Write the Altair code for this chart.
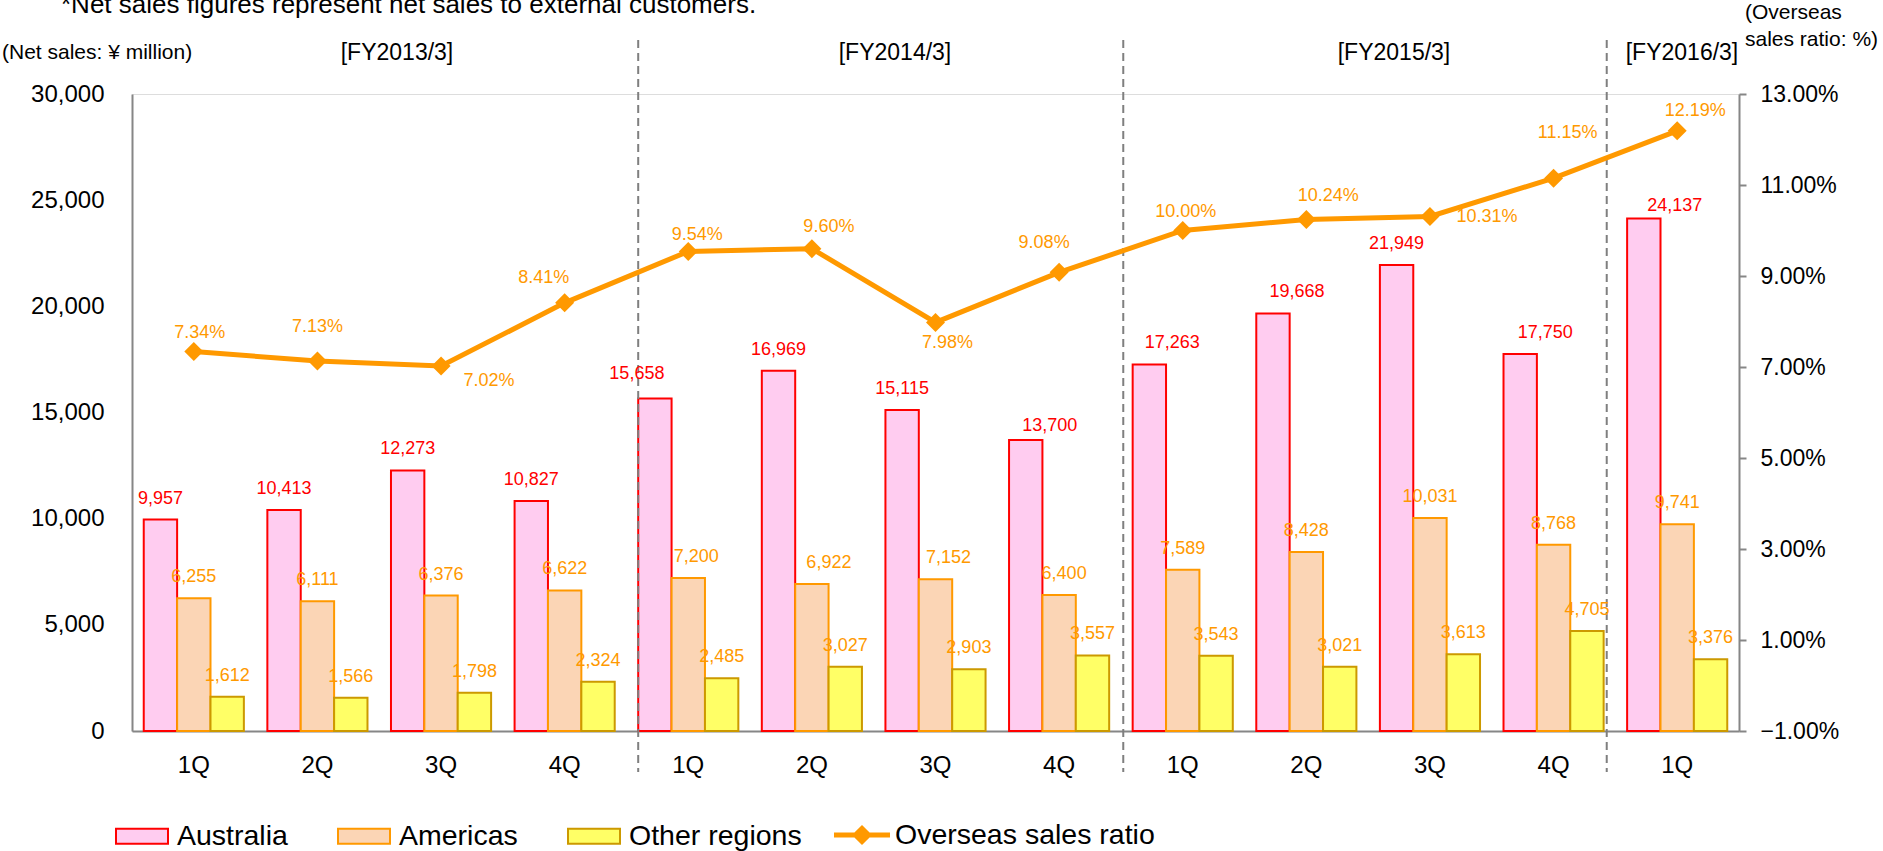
import altair as alt
import pandas as pd

# ---- data -----------------------------------------------------------------
fiscal_years = ["FY2013/3"] * 4 + ["FY2014/3"] * 4 + ["FY2015/3"] * 4 + ["FY2016/3"]
quarters = ["1Q", "2Q", "3Q", "4Q", "1Q", "2Q", "3Q", "4Q", "1Q", "2Q", "3Q", "4Q", "1Q"]

australia = [9957, 10413, 12273, 10827, 15658, 16969, 15115, 13700, 17263, 19668, 21949, 17750, 24137]
americas = [6255, 6111, 6376, 6622, 7200, 6922, 7152, 6400, 7589, 8428, 10031, 8768, 9741]
other_regions = [1612, 1566, 1798, 2324, 2485, 3027, 2903, 3557, 3543, 3021, 3613, 4705, 3376]
overseas_ratio = [7.34, 7.13, 7.02, 8.41, 9.54, 9.60, 7.98, 9.08, 10.00, 10.24, 10.31, 11.15, 12.19]

regions = ["Australia", "Americas", "Other regions"]
ratio_name = "Overseas sales ratio"

# ---- label placement (pixel nudges for the value labels) -------------------
aus_label_dx = [0, 0, 0, 0, -18, 0, 0, 24, 23, 24, 0, 25, 31]
aus_label_dy = [-21, -21, -21, -21, -25, -21, -21, -14, -21, -21, -21, -21, -12]
ame_label_dx = [0, 0, 0, 0, 8, 17, 13, 5, 0, 0, 0, 0, 0]
ame_label_dy = [-21] * 13
oth_label_dx = [0] * 13
oth_label_dy = [-21] * 13
ratio_label_dx = [6, 0, 48, -21, 9, 17, 12, -15, 3, 22, 57, 14, 18]
ratio_label_dy = [-19, -34, 15, -25, -16, -22, 21, -29, -19, -24, 1, -45, -20]

# ---- styling ---------------------------------------------------------------
FONT = "Arial, Liberation Sans"
GRAY = "#868686"
ORANGE = "#FF9900"
fills = ["#FFCCF0", "#FBD5B5", "#FFFF66"]
strokes = ["#FF0000", "#FF9900", "#CC9900"]
label_colors = ["#FF0000", "#FF9900", "#FF9900"]

W, H = 1607, 637

keys = [f"{fy} {q}" for fy, q in zip(fiscal_years, quarters)]

series = {"Australia": (australia, aus_label_dx, aus_label_dy),
          "Americas": (americas, ame_label_dx, ame_label_dy),
          "Other regions": (other_regions, oth_label_dx, oth_label_dy)}
rows = []
for region, (vals, ldx, ldy) in series.items():
    for k, v, a, b in zip(keys, vals, ldx, ldy):
        rows.append({"key": k, "region": region, "value": v, "ldx": a, "ldy": b})
bar_df = pd.DataFrame(rows)

ratio_df = pd.DataFrame({"key": keys, "ratio": overseas_ratio, "series": ratio_name,
                         "ldx": ratio_label_dx, "ldy": ratio_label_dy})

# ---- shared encodings ------------------------------------------------------
x_scale = alt.Scale(domain=keys, paddingInner=0.19, paddingOuter=0.095)
x_axis = alt.Axis(title=None, labelExpr="slice(datum.label, -2)", ticks=False,
                  labelFontSize=24, labelPadding=22, labelColor="black", labelAngle=0,
                  domainColor=GRAY, domainWidth=2, grid=False, labelFont=FONT)


def xenc(**kw):
    return alt.X("key:N", scale=x_scale, axis=x_axis, **kw)


xoff = alt.XOffset("region:N", scale=alt.Scale(domain=regions, paddingInner=0, paddingOuter=0))

y_left_scale = alt.Scale(domain=[0, 30000], nice=False, zero=True)
y_left_axis = alt.Axis(title=None, values=list(range(0, 30001, 5000)),
                       labelExpr="format(datum.value, ',')", ticks=False,
                       labelFontSize=24, labelPadding=28, labelColor="black", grid=False,
                       domainColor=GRAY, domainWidth=2, labelFont=FONT)

y_right_scale = alt.Scale(domain=[-1, 13], nice=False, zero=False)
y_right_axis = alt.Axis(title=None, orient="right", values=[-1, 1, 3, 5, 7, 9, 11, 13],
                        labelExpr="format(datum.value, '.2f') + '%'", tickSize=7, tickWidth=2,
                        tickColor=GRAY, labelFontSize=23, labelPadding=14, labelColor="black",
                        grid=False, domainColor=GRAY, domainWidth=2, labelFont=FONT)

rect_path = "M-1,-0.29L1,-0.29L1,0.29L-1,0.29Z"
bar_legend = alt.Legend(title=None, orient="none", legendX=-17, legendY=715, direction="horizontal",
                        symbolType=rect_path, symbolSize=2704, symbolStrokeWidth=2,
                        labelFontSize=28.5, labelFont=FONT, labelColor="black", labelOffset=8,
                        columnPadding=46, padding=0, labelLimit=400, symbolOpacity=1)

line_path = ("M-1,-0.09L-0.27,-0.09L0,-0.36L0.27,-0.09L1,-0.09L1,0.09L0.27,0.09"
             "L0,0.36L-0.27,0.09L-1,0.09Z")
line_legend = alt.Legend(title=None, orient="none", legendX=702, legendY=713,
                         symbolType=line_path, symbolSize=3136, symbolFillColor=ORANGE,
                         symbolStrokeWidth=0, labelFontSize=28.5, labelFont=FONT,
                         labelColor="black", labelOffset=5, padding=0, labelLimit=400)

# ---- bars and their labels (left axis) --------------------------------------
bars = alt.Chart(bar_df).mark_bar(strokeWidth=2).encode(
    x=xenc(),
    xOffset=xoff,
    y=alt.Y("value:Q", scale=y_left_scale, axis=y_left_axis),
    fill=alt.Fill("region:N", scale=alt.Scale(domain=regions, range=fills), legend=bar_legend),
    stroke=alt.Stroke("region:N", scale=alt.Scale(domain=regions, range=strokes), legend=bar_legend),
)

bar_label_layers = []
for region, col in zip(regions, label_colors):
    bar_label_layers.append(
        alt.Chart(bar_df).transform_filter(alt.datum.region == region).mark_text(
            fontSize=18, font=FONT, color=col, baseline="middle", align="center",
            dx={"expr": "datum.ldx"}, dy={"expr": "datum.ldy"},
        ).encode(
            x=xenc(), xOffset=xoff,
            y=alt.Y("value:Q", scale=y_left_scale, axis=y_left_axis),
            text=alt.Text("value:Q", format=","),
        )
    )

# dashed fiscal-year separators
sep_keys = ["FY2014/3 1Q", "FY2015/3 1Q", "FY2016/3 1Q"]
sep_shift = [0, -9.4, -20.4]
sep_layers = []
for k, s in zip(sep_keys, sep_shift):
    sep_layers.append(
        alt.Chart(pd.DataFrame({"key": [k]})).mark_rule(
            color="#7F7F7F", strokeWidth=2, strokeDash=[8, 5], xOffset=s
        ).encode(x=xenc(bandPosition=0), y=alt.value(-54), y2=alt.value(678))
    )

left = alt.layer(bars, *sep_layers, *bar_label_layers)

# ---- overseas sales ratio (right axis) -------------------------------------
line = alt.Chart(ratio_df).mark_line(strokeWidth=5).encode(
    x=xenc(),
    y=alt.Y("ratio:Q", scale=y_right_scale, axis=y_right_axis),
    color=alt.Color("series:N", scale=alt.Scale(domain=[ratio_name], range=[ORANGE]), legend=line_legend),
)
points = alt.Chart(ratio_df).mark_point(shape="diamond", size=361, filled=True, opacity=1,
                                         color=ORANGE).encode(
    x=xenc(),
    y=alt.Y("ratio:Q", scale=y_right_scale, axis=y_right_axis),
)
ratio_labels = alt.Chart(ratio_df).transform_calculate(
    lbl="format(datum.ratio, '.2f') + '%'"
).mark_text(fontSize=18, font=FONT, color=ORANGE, baseline="middle", align="center",
            dx={"expr": "datum.ldx"}, dy={"expr": "datum.ldy"}).encode(
    x=xenc(),
    y=alt.Y("ratio:Q", scale=y_right_scale, axis=y_right_axis),
    text="lbl:N",
)
right = alt.layer(line, points, ratio_labels)

# ---- annotation texts ------------------------------------------------------
annotations = [
    ("*Net sales figures represent net sales to external customers.", -71, -81, 26, "left", "alphabetic"),
    ("(Net sales: ¥ million)", -130, -41, 21, "left", "middle"),
    ("[FY2013/3]", 265, -41, 23, "center", "middle"),
    ("[FY2014/3]", 763, -41, 23, "center", "middle"),
    ("[FY2015/3]", 1262, -41, 23, "center", "middle"),
    ("[FY2016/3]", 1550, -41, 23, "center", "middle"),
    (["(Overseas", "sales ratio: %)"], 1613, -81, 21, "left", "middle"),
]
ann_layers = []
for txt, ax, ay, fs, al, bl in annotations:
    ann_layers.append(
        alt.Chart(pd.DataFrame({"k": [0]})).mark_text(
            text=txt, fontSize=fs, font=FONT, color="black", align=al, baseline=bl, lineHeight=27
        ).encode(x=alt.value(ax), y=alt.value(ay))
    )

chart = alt.layer(left, right, *ann_layers).resolve_scale(
    y="independent", color="independent"
).properties(
    width=W, height=H,
    autosize=alt.AutoSizeParams(type="none"),
    padding={"left": 132, "top": 94, "right": 144, "bottom": 120},
    background="white",
).configure_view(stroke=None).configure(font=FONT)

chart.save("out.html", embed_options={"renderer": "svg", "actions": False})
